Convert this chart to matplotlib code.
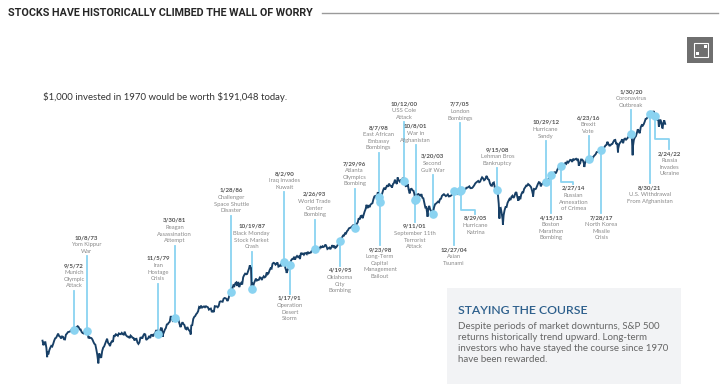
import datetime
import numpy as np
import matplotlib
matplotlib.use("Agg")
import matplotlib.pyplot as plt
import matplotlib.transforms as mtransforms
from matplotlib.patches import Rectangle
from matplotlib import font_manager

# ---------------- DATA ----------------
start_value = 92.06  # S&P 500 at end of 1969

sp_1970s = [
    85.02, 89.50, 89.63, 81.52, 76.55, 72.72, 78.05, 81.52, 84.21, 83.25, 87.20, 92.15,
    95.88, 96.75, 100.31, 103.95, 99.63, 98.70, 95.58, 99.03, 98.34, 94.23, 93.99, 102.09,
    103.94, 106.57, 107.20, 107.67, 109.53, 107.14, 107.39, 111.09, 110.55, 111.58, 116.67, 118.05,
    116.03, 111.68, 111.52, 106.97, 104.95, 104.26, 108.22, 104.25, 108.43, 108.29, 95.96, 97.55,
    96.57, 96.22, 93.98, 90.31, 87.28, 86.00, 79.31, 72.15, 63.54, 73.90, 69.97, 68.56,
    76.98, 81.59, 83.36, 87.30, 91.15, 95.19, 88.75, 86.88, 83.87, 89.04, 91.24, 90.19,
    100.86, 99.71, 102.77, 101.64, 100.18, 104.28, 103.44, 102.91, 105.24, 102.90, 102.10, 107.46,
    102.03, 99.82, 98.42, 98.44, 96.12, 100.48, 98.85, 96.77, 96.53, 92.34, 94.83, 95.10,
    89.25, 87.04, 89.21, 96.83, 97.24, 95.53, 100.68, 103.29, 102.54, 93.15, 94.70, 96.11,
    99.93, 96.28, 101.59, 101.76, 99.08, 102.91, 103.81, 109.32, 109.32, 101.82, 106.16, 107.94,
]
sp_1980s = [
    114.16, 113.66, 102.09, 106.29, 111.24, 114.24, 121.67, 122.38, 125.46, 127.47, 140.52, 135.76,
    129.55, 131.27, 136.00, 132.81, 132.59, 131.21, 130.92, 122.79, 116.18, 121.89, 126.35, 122.55,
    120.40, 113.11, 111.96, 116.44, 111.88, 109.61, 107.09, 119.51, 120.42, 133.71, 138.54, 140.64,
    145.30, 148.06, 152.96, 164.42, 162.39, 168.11, 162.56, 164.40, 166.07, 163.55, 166.40, 164.93,
    163.41, 157.06, 159.18, 160.05, 150.55, 153.18, 150.66, 166.68, 166.10, 166.09, 163.58, 167.24,
    179.63, 181.18, 180.66, 179.83, 189.55, 191.85, 190.92, 188.63, 182.08, 189.82, 202.17, 211.28,
    211.78, 226.92, 238.90, 235.52, 247.35, 250.84, 236.12, 252.93, 231.32, 243.98, 249.22, 242.17,
    274.08, 284.20, 291.70, 288.36, 290.10, 304.00, 318.66, 329.80, 321.83, 251.79, 230.30, 247.08,
    257.07, 267.82, 258.89, 261.33, 262.16, 273.50, 272.02, 261.52, 271.91, 278.97, 273.70, 277.72,
    297.47, 288.86, 294.87, 309.64, 320.52, 317.98, 346.08, 351.45, 349.15, 340.36, 345.99, 353.40,
]
sp_1990s = [
    329.08, 331.89, 339.94, 330.80, 361.23, 358.02, 356.15, 322.56, 306.05, 304.00, 322.22, 330.22,
    343.93, 367.07, 375.22, 375.34, 389.83, 371.16, 387.81, 395.43, 387.86, 392.46, 375.22, 417.09,
    408.79, 412.70, 403.69, 414.95, 415.35, 408.14, 424.21, 414.03, 417.80, 418.68, 431.35, 435.71,
    438.78, 443.38, 451.67, 440.19, 450.19, 450.53, 448.13, 463.56, 458.93, 467.83, 461.79, 466.45,
    481.61, 467.14, 445.77, 450.91, 456.50, 444.27, 458.26, 475.49, 462.69, 472.35, 453.69, 459.27,
    470.42, 487.39, 500.71, 514.71, 533.40, 544.75, 562.06, 561.88, 584.41, 581.50, 605.37, 615.93,
    636.02, 640.43, 645.50, 654.17, 669.12, 670.63, 639.95, 651.99, 687.31, 705.27, 757.02, 740.74,
    786.16, 790.82, 757.12, 801.34, 848.28, 885.14, 954.29, 899.47, 947.28, 914.62, 955.40, 970.43,
    980.28, 1049.34, 1101.75, 1111.75, 1090.82, 1133.84, 1120.67, 957.28, 1017.01, 1098.67, 1163.63, 1229.23,
    1279.64, 1238.33, 1286.37, 1335.18, 1301.84, 1372.71, 1328.72, 1320.41, 1282.71, 1362.93, 1388.91, 1469.25,
]
sp_2000s = [
    1394.46, 1366.42, 1498.58, 1452.43, 1420.60, 1454.60, 1430.83, 1517.68, 1436.51, 1429.40, 1314.95, 1320.28,
    1366.01, 1239.94, 1160.33, 1249.46, 1255.82, 1224.38, 1211.23, 1133.58, 1040.94, 1059.78, 1139.45, 1148.08,
    1130.20, 1106.73, 1147.39, 1076.92, 1067.14, 989.82, 911.62, 916.07, 815.28, 885.76, 936.31, 879.82,
    855.70, 841.15, 848.18, 916.92, 963.59, 974.50, 990.31, 1008.01, 995.97, 1050.71, 1058.20, 1111.92,
    1131.13, 1144.94, 1126.21, 1107.30, 1120.68, 1140.84, 1101.72, 1104.24, 1114.58, 1130.20, 1173.82, 1211.92,
    1181.27, 1203.60, 1180.59, 1156.85, 1191.50, 1191.33, 1234.18, 1220.33, 1228.81, 1207.01, 1249.48, 1248.29,
    1280.08, 1280.66, 1294.83, 1310.61, 1270.09, 1270.20, 1276.66, 1303.82, 1335.85, 1377.94, 1400.63, 1418.30,
    1438.24, 1406.82, 1420.86, 1482.37, 1530.62, 1503.35, 1455.27, 1473.99, 1526.75, 1549.38, 1481.14, 1468.36,
    1378.55, 1330.63, 1322.70, 1385.59, 1400.38, 1280.00, 1267.38, 1282.83, 1166.36, 968.75, 896.24, 903.25,
    825.88, 735.09, 797.87, 872.81, 919.14, 919.32, 987.48, 1020.62, 1057.08, 1036.19, 1095.63, 1115.10,
]
sp_2010s = [
    1073.87, 1104.49, 1169.43, 1186.69, 1089.41, 1030.71, 1101.60, 1049.33, 1141.20, 1183.26, 1180.55, 1257.64,
    1286.12, 1327.22, 1325.83, 1363.61, 1345.20, 1320.64, 1292.28, 1218.89, 1131.42, 1253.30, 1246.96, 1257.60,
    1312.41, 1365.68, 1408.47, 1397.91, 1310.33, 1362.16, 1379.32, 1406.58, 1440.67, 1412.16, 1416.18, 1426.19,
    1498.11, 1514.68, 1569.19, 1597.57, 1630.74, 1606.28, 1685.73, 1632.97, 1681.55, 1756.54, 1805.81, 1848.36,
    1782.59, 1859.45, 1872.34, 1883.95, 1923.57, 1960.23, 1930.67, 2003.37, 1972.29, 2018.05, 2067.56, 2058.90,
    1994.99, 2104.50, 2067.89, 2085.51, 2107.39, 2063.11, 2103.84, 1972.18, 1920.03, 2079.36, 2080.41, 2043.94,
    1940.24, 1932.23, 2059.74, 2065.30, 2096.95, 2098.86, 2173.60, 2170.95, 2168.27, 2126.15, 2198.81, 2238.83,
    2278.87, 2363.64, 2362.72, 2384.20, 2411.80, 2423.41, 2470.30, 2471.65, 2519.36, 2575.26, 2647.58, 2673.61,
    2823.81, 2713.83, 2640.87, 2648.05, 2705.27, 2718.37, 2816.29, 2901.52, 2913.98, 2711.74, 2760.17, 2506.85,
    2704.10, 2784.49, 2834.40, 2945.83, 2752.06, 2941.76, 2980.38, 2926.46, 2976.74, 3037.56, 3140.98, 3230.78,
]
sp_2020s = [
    3225.52, 2954.22, 2584.59, 2912.43, 3044.31, 3100.29, 3271.12, 3500.31, 3363.00, 3269.96, 3621.63, 3756.07,
    3714.24, 3811.15, 3972.89, 4181.17, 4204.11, 4297.50, 4395.26, 4522.68, 4307.54, 4605.38, 4567.00, 4766.18,
    4515.55, 4373.94, 4530.41, 4131.93, 4132.15, 3785.38, 4130.29, 3955.00, 3585.62, 3871.98, 4080.11, 3839.50,
]

# Intramonth extremes (dates and closes)
extreme_dates = ["1970-05-26", "1974-10-03", "1980-03-27", "1982-08-12", "1987-08-25", "1987-10-19",
                 "1990-07-16", "1990-10-11", "1998-07-17", "1998-10-08", "2000-03-24", "2001-09-21",
                 "2002-10-09", "2003-03-11", "2007-10-09", "2008-11-20", "2009-03-09", "2010-07-02",
                 "2011-10-03", "2015-08-25", "2016-02-11", "2018-12-24", "2020-02-19", "2020-03-23",
                 "2022-01-03", "2022-06-16", "2022-10-12"]
extreme_values = [69.29, 62.28, 98.22, 102.42, 336.77, 224.84,
                  368.95, 295.46, 1186.75, 959.44, 1527.46, 965.80,
                  776.76, 800.73, 1565.15, 752.44, 676.53, 1022.58,
                  1099.23, 1867.61, 1829.08, 2351.10, 3386.15, 2237.40,
                  4796.56, 3666.77, 3577.03]

event_dates = ["1972-09-05", "1973-10-08", "1979-11-05", "1981-03-30", "1986-01-28", "1987-10-19",
               "1990-08-02", "1991-01-17", "1993-02-26", "1995-04-19", "1996-07-29", "1998-08-07",
               "1998-09-23", "2000-10-12", "2001-09-11", "2001-10-08", "2003-03-20", "2004-12-27",
               "2005-07-07", "2005-08-29", "2008-09-15", "2012-10-29", "2013-04-15", "2014-02-27",
               "2016-06-23", "2017-07-28", "2020-01-30", "2021-08-30", "2022-02-24"]
event_date_labels = ["9/5/72", "10/8/73", "11/5/79", "3/30/81", "1/28/86", "10/19/87",
                     "8/2/90", "1/17/91", "2/26/93", "4/19/95", "7/29/96", "8/7/98",
                     "9/23/98", "10/12/00", "9/11/01", "10/8/01", "3/20/03", "12/27/04",
                     "7/7/05", "8/29/05", "9/15/08", "10/29/12", "4/15/13", "2/27/14",
                     "6/23/16", "7/28/17", "1/30/20", "8/30/21", "2/24/22"]
event_descriptions = [
    ["Munich", "Olympic", "Attack"], ["Yom Kippur", "War"], ["Iran", "Hostage", "Crisis"],
    ["Reagan", "Assassination", "Attempt"], ["Challenger", "Space Shuttle", "Disaster"],
    ["Black Monday", "Stock Market", "Crash"], ["Iraq Invades", "Kuwait"],
    ["Operation", "Desert", "Storm"], ["World Trade", "Center", "Bombing"],
    ["Oklahoma", "City", "Bombing"], ["Atlanta", "Olympics", "Bombing"],
    ["East African", "Embassy", "Bombings"], ["Long-Term", "Capital", "Management", "Bailout"],
    ["USS Cole", "Attack"], ["September 11th", "Terrorist", "Attack"], ["War in", "Afghanistan"],
    ["Second", "Gulf War"], ["Asian", "Tsunami"], ["London", "Bombings"], ["Hurricane", "Katrina"],
    ["Lehman Bros", "Bankruptcy"], ["Hurricane", "Sandy"], ["Boston", "Marathon", "Bombing"],
    ["Russian", "Annexation", "of Crimea"], ["Brexit", "Vote"], ["North Korea", "Missile", "Crisis"],
    ["Coronavirus", "Outbreak"], ["U.S. Withdrawal", "From Afghanistan"], ["Russia", "Invades", "Ukraine"],
]

title = "STOCKS HAVE HISTORICALLY CLIMBED THE WALL OF WORRY"
subtitle = "$1,000 invested in 1970 would be worth $191,048 today."
box_title = "STAYING THE COURSE"
box_text = ("Despite periods of market downturns, S&P 500\n"
            "returns historically trend upward. Long-term\n"
            "investors who have stayed the course since 1970\n"
            "have been rewarded.")

# ---------------- LAYOUT (label placement, pixels from top) ----------------
# (side, label top y, elbow y, elbow dx)
label_layout = [
    ("up", 263, 0, 0), ("up", 235, 0, 0), ("up", 256, 0, 0), ("up", 218, 0, 0),
    ("up", 188, 0, 0), ("up", 224, 0, 0), ("up", 171, 0, 0), ("down", 296, 0, 0),
    ("up", 192, 0, 0), ("down", 268, 0, 0), ("up", 161, 0, 0), ("up", 125, 0, 0),
    ("down", 247, 0, 0), ("up", 101, 0, 0), ("down", 224, 0, 0), ("up", 124, 0, 0),
    ("up", 154, 0, 0), ("down", 247, 0, 0), ("up", 102, 0, 0), ("elbow", 216, 210, 14),
    ("up", 147, 0, 0), ("up", 120, 0, 0), ("down", 215, 0, 0), ("elbow", 186, 182, 12),
    ("up", 115, 0, 0), ("down", 215, 0, 0), ("up", 89, 0, 0), ("down", 185, 0, 0),
    ("elbow", 151, 139, 14),
]

W, H = 720, 384
X0_PX, PX_PER_YEAR = 42.5, 11.75
REF_PX, REF_VAL, PX_PER_DEC = 134.0, 3225.5, 133.8

NAVY = "#173f66"
LIGHTBLUE = "#8ad3f1"
DATE_C = "#505050"
DESC_C = "#8a8a8a"

avail = {f.name for f in font_manager.fontManager.ttflist}
body_font = "Lato" if "Lato" in avail else "DejaVu Sans"


def dec_year(s):
    d = datetime.date.fromisoformat(s)
    return d.year + (d - datetime.date(d.year, 1, 1)).days / 365.25


# ---------------- BUILD SERIES ----------------
monthly = sp_1970s + sp_1980s + sp_1990s + sp_2000s + sp_2010s + sp_2020s
xm = 1970 + (np.arange(len(monthly)) + 1) / 12.0 - 0.004
xs = np.concatenate([[1970.0], xm, [dec_year(d) for d in extreme_dates]])
vs = np.concatenate([[start_value], monthly, extreme_values])
order = np.argsort(xs)
xs, vs = xs[order], vs[order]

# ---------------- FIGURE ----------------
fig = plt.figure(figsize=(W / 100, H / 100), dpi=100)
fig.patch.set_facecolor("white")
ax = fig.add_axes([0, 0, 1, 1])
ax.set_yscale("log")
ax.set_xlim(1970 - X0_PX / PX_PER_YEAR, 1970 + (W - X0_PX) / PX_PER_YEAR)
top_log = np.log10(REF_VAL) + REF_PX / PX_PER_DEC
bot_log = np.log10(REF_VAL) - (H - REF_PX) / PX_PER_DEC
ax.set_ylim(10 ** bot_log, 10 ** top_log)
ax.axis("off")

pix = mtransforms.Affine2D().scale(1.0 / W, -1.0 / H).translate(0, 1) + fig.transFigure
blend = mtransforms.blended_transform_factory(ax.transData, pix)

ax.plot(xs, vs, color=NAVY, lw=1.35, zorder=3, solid_joinstyle="miter")

LH = 6.8
for date, dlab, desc, (side, ytop, yel, dx) in zip(event_dates, event_date_labels,
                                                   event_descriptions, label_layout):
    xe = dec_year(date)
    ve = 10 ** np.interp(xe, xs, np.log10(vs))
    ym = pix.inverted().transform(ax.transData.transform((xe, ve)))[1]
    nlines = 1 + len(desc)
    xl = xe
    if side == "up":
        ax.plot([xe, xe], [ytop + nlines * LH + 1, ym], color=LIGHTBLUE, lw=1.3,
                transform=blend, zorder=2)
    elif side == "down":
        ax.plot([xe, xe], [ym, ytop - 2], color=LIGHTBLUE, lw=1.3, transform=blend, zorder=2)
    else:
        xl = xe + dx / PX_PER_YEAR
        ax.plot([xe, xe, xl, xl], [ym, yel, yel, ytop - 2], color=LIGHTBLUE, lw=1.3,
                transform=blend, zorder=2)
    ax.plot([xe], [ve], "o", ms=5.2, color=LIGHTBLUE, mec=LIGHTBLUE, zorder=4)
    ax.text(xl, ytop, dlab, transform=blend, ha="center", va="top", fontsize=4.4,
            color=DATE_C, family=body_font, fontweight="bold")
    for i, line in enumerate(desc):
        ax.text(xl, ytop + (i + 1) * LH, line, transform=blend, ha="center", va="top",
                fontsize=4.2, color=DESC_C, family=body_font)

# Title: pick the narrowest bold sans available and fit it to the reference width
renderer = fig.canvas.get_renderer()
best = None
for fam, stretch in [("DejaVu Sans", "condensed"), ("Roboto", "condensed"), ("Lato", "normal"),
                     ("Open Sans", "condensed"), ("Noto Sans", "condensed"),
                     ("Liberation Sans", "normal")]:
    if fam not in avail:
        continue
    t = fig.text(0, 0, title, fontsize=9.2, fontweight="bold", family=fam, fontstretch=stretch)
    wpx = t.get_window_extent(renderer).width
    t.remove()
    if best is None or wpx < best[2]:
        best = (fam, stretch, wpx)
TARGET_W = 306.0
tsize = min(9.2, 9.2 * TARGET_W / best[2]) if best else 8
title_txt = fig.text(8 / W, 1 - 12.5 / H, title, ha="left", va="center", fontsize=tsize,
                     fontweight="bold", color="#262626",
                     family=best[0] if best else "DejaVu Sans",
                     fontstretch=best[1] if best else "normal")
tw = title_txt.get_window_extent(renderer).width
x_rule = 8 + tw + 9
fig.add_artist(plt.Line2D([x_rule / W, 718 / W], [1 - 13 / H, 1 - 13 / H], color="#9a9a9a", lw=1.0))

# Expand icon
fig.add_artist(Rectangle((687, 37), 26, 26, transform=pix, facecolor="#6f6f6f", edgecolor="none"))
fig.add_artist(Rectangle((694, 43), 14, 14, transform=pix, facecolor="none", edgecolor="white", lw=0.8))
fig.add_artist(Rectangle((695.5, 51.5), 3.5, 3.5, transform=pix, facecolor="white", edgecolor="none"))
fig.add_artist(Rectangle((703.5, 44.5), 3.5, 3.5, transform=pix, facecolor="white", edgecolor="none"))

# Subtitle
fig.text(43 / W, 1 - 97 / H, subtitle, ha="left", va="center", fontsize=6.9,
         color="#333333", family=body_font, parse_math=False)

# Box
fig.add_artist(Rectangle((447, 288), 234, 96, transform=pix, facecolor="#f2f3f5",
                         edgecolor="none", zorder=0))
fig.text(458 / W, 1 - 310 / H, box_title, ha="left", va="center", fontsize=8.8,
         color="#2d5f8c", family=body_font, fontweight="semibold")
fig.text(458 / W, 1 - 322 / H, box_text, ha="left", va="top", fontsize=7.0,
         color="#666666", family=body_font, linespacing=1.28, parse_math=False)

fig.savefig("out.png", dpi=100, facecolor="white")
